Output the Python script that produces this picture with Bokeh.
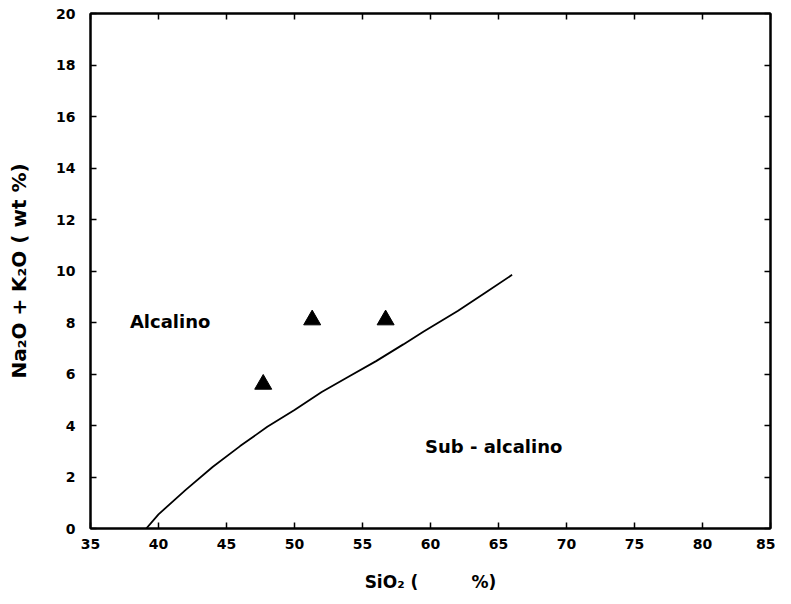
from bokeh.plotting import figure
from bokeh.models import LinearAxis, Range1d, FixedTicker, CustomJSTickFormatter, Label
from bokeh.embed import file_html
from bokeh.resources import INLINE

# Division line alkaline / sub-alkaline
line_sio2 = [39.1, 40, 42, 44, 46, 48, 50, 52, 54, 56, 58, 59.5, 62, 64, 66]
line_alk = [0.0, 0.55, 1.5, 2.4, 3.2, 3.95, 4.6, 5.3, 5.9, 6.5, 7.15, 7.65, 8.45, 9.15, 9.85]

# Samples
sample_sio2 = [47.7, 51.3, 56.7]
sample_alk = [5.6, 8.1, 8.1]

x_ticks = [35, 40, 45, 50, 55, 60, 65, 70, 75, 80, 85]
y_ticks = [0, 2, 4, 6, 8, 10, 12, 14, 16, 18, 20]

region_labels = ["Alcalino", "Sub - alcalino"]
region_x = [37.9, 59.6]
region_y = [8.05, 3.2]

FONT = "DejaVu Sans"
NB = "\u00a0"

p = figure(frame_width=680, frame_height=515, output_backend="svg", toolbar_location=None,
           x_range=Range1d(35, 85), y_range=Range1d(0, 20),
           min_border_left=90, min_border_top=13, min_border_right=5, min_border_bottom=60,
           x_axis_label="SiO\u2082 (" + NB * 9 + "%)",
           y_axis_label="Na\u2082O + K\u2082O ( wt %)")
p.grid.visible = False
p.outline_line_color = "black"
p.outline_line_width = 2
p.background_fill_color = "white"
p.border_fill_color = "white"

for ax in (p.xaxis[0], p.yaxis[0]):
    ax.major_tick_in = 6
    ax.major_tick_out = 0
    ax.minor_tick_in = 0
    ax.minor_tick_out = 0
    ax.axis_line_width = 2
    ax.major_tick_line_width = 1.5
    ax.major_label_text_font = FONT
    ax.major_label_text_font_style = "bold"
    ax.major_label_text_font_size = "14px"
    ax.major_label_text_color = "black"
    ax.axis_label_text_font = FONT
    ax.axis_label_text_font_style = "bold"
    ax.axis_label_text_color = "black"

p.xaxis[0].axis_label_text_font_size = "17px"
p.yaxis[0].axis_label_text_font_size = "20px"
p.xaxis[0].ticker = FixedTicker(ticks=x_ticks)
p.yaxis[0].ticker = FixedTicker(ticks=y_ticks)
p.xaxis[0].major_label_standoff = 10
p.yaxis[0].major_label_standoff = 15
p.xaxis[0].axis_label_standoff = 20
p.yaxis[0].axis_label_standoff = 22

blank = CustomJSTickFormatter(code="return ''")
top = LinearAxis(ticker=FixedTicker(ticks=x_ticks), formatter=blank,
                 major_tick_in=6, major_tick_out=0, minor_tick_in=0, minor_tick_out=0,
                 major_tick_line_width=1.5, axis_line_width=2, major_label_standoff=0)
right = LinearAxis(ticker=FixedTicker(ticks=y_ticks), formatter=blank,
                   major_tick_in=6, major_tick_out=0, minor_tick_in=0, minor_tick_out=0,
                   major_tick_line_width=1.5, axis_line_width=2, major_label_standoff=0)
p.add_layout(top, "above")
p.add_layout(right, "right")

p.line(line_sio2, line_alk, line_color="black", line_width=1.8)
p.scatter(sample_sio2, sample_alk, marker="triangle", size=17, fill_color="black", line_color="black")

for t, x, y in zip(region_labels, region_x, region_y):
    p.add_layout(Label(x=x, y=y, text=t, text_font=FONT, text_font_style="bold",
                       text_font_size="18px", text_baseline="middle", text_align="left",
                       text_color="black"))

open("out.html", "w").write(file_html(p, INLINE))
